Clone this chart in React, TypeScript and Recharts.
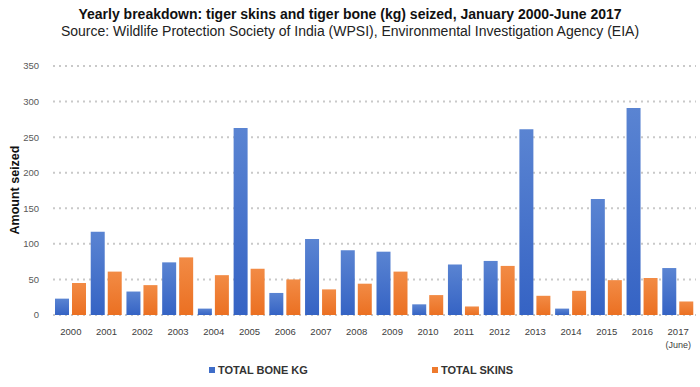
import { BarChart, Bar, XAxis, YAxis, CartesianGrid } from "recharts";

const years = ["2000", "2001", "2002", "2003", "2004", "2005", "2006", "2007", "2008", "2009", "2010", "2011", "2012", "2013", "2014", "2015", "2016", "2017"];
const boneKg = [23, 117, 33, 74, 9, 263, 31, 107, 91, 89, 15, 71, 76, 261, 9, 163, 291, 66];
const skins = [45, 61, 42, 81, 56, 65, 50, 36, 44, 61, 28, 12, 69, 27, 34, 49, 52, 19];
const yTicks = [0, 50, 100, 150, 200, 250, 300, 350];

const data = years.map((year, i) => ({ year, bone: boneKg[i], skins: skins[i] }));

const FONT = "'Liberation Sans', Arial, sans-serif";
const BLUE = "#3f6dc8";
const ORANGE = "#ee7a2d";

function YearTick({ x, y, payload }: any) {
  return (
    <g transform={`translate(${x},${y})`}>
      <text x={0} y={0} dy={12} textAnchor="middle" fontSize={9.5} fill="#404040" fontFamily={FONT}>
        {payload.value}
      </text>
      {payload.value === "2017" && (
        <text x={0} y={0} dy={25} textAnchor="middle" fontSize={9} fill="#404040" fontFamily={FONT}>
          (June)
        </text>
      )}
    </g>
  );
}

export default function App() {
  return (
    <div style={{ position: "absolute", left: 0, top: 0, width: 700, height: 387, background: "#fff", fontFamily: FONT }}>
      <div style={{ position: "absolute", top: 6, width: 700, textAlign: "center", fontSize: 14, fontWeight: "bold", color: "#111" }}>
        Yearly breakdown: tiger skins and tiger bone (kg) seized, January 2000-June 2017
      </div>
      <div style={{ position: "absolute", top: 23, width: 700, textAlign: "center", fontSize: 14, color: "#222" }}>
        Source: Wildlife Protection Society of India (WPSI), Environmental Investigation Agency (EIA)
      </div>
      <div
        style={{
          position: "absolute",
          left: 15,
          top: 190,
          transform: "translate(-50%, -50%) rotate(-90deg)",
          fontSize: 12.5,
          fontWeight: "bold",
          whiteSpace: "nowrap",
          color: "#111",
        }}
      >
        Amount seized
      </div>
      <BarChart
        width={700}
        height={387}
        data={data}
        margin={{ top: 66, right: 4, bottom: 42, left: 0 }}
        barGap={3}
        barSize={14}
      >
        <defs>
          <linearGradient id="gBone" x1="0" y1="0" x2="0" y2="1">
            <stop offset="0%" stopColor="#5a84d2" />
            <stop offset="100%" stopColor="#3563c4" />
          </linearGradient>
          <linearGradient id="gSkin" x1="0" y1="0" x2="0" y2="1">
            <stop offset="0%" stopColor="#f28b45" />
            <stop offset="100%" stopColor="#eb7022" />
          </linearGradient>
        </defs>
        <CartesianGrid vertical={false} stroke="#c9c9c9" strokeWidth={2} strokeDasharray="2 4" />
        <XAxis dataKey="year" axisLine={false} tickLine={false} interval={0} tick={<YearTick />} height={30} />
        <YAxis
          width={53}
          domain={[0, 350]}
          ticks={yTicks}
          axisLine={false}
          tickLine={false}
          tick={{ fontSize: 9.5, fill: "#595959", fontFamily: FONT }}
          tickMargin={8}
        />
        <Bar dataKey="bone" fill="url(#gBone)" isAnimationActive={false} />
        <Bar dataKey="skins" fill="url(#gSkin)" isAnimationActive={false} />
      </BarChart>
      <div style={{ position: "absolute", top: 364, left: 209, display: "flex", alignItems: "center", fontSize: 11, fontWeight: "bold", color: "#333" }}>
        <span style={{ width: 6, height: 6, background: BLUE, marginRight: 3, display: "inline-block" }} />
        TOTAL BONE KG
      </div>
      <div style={{ position: "absolute", top: 364, left: 432, display: "flex", alignItems: "center", fontSize: 11, fontWeight: "bold", color: "#333" }}>
        <span style={{ width: 6, height: 6, background: ORANGE, marginRight: 3, display: "inline-block" }} />
        TOTAL SKINS
      </div>
    </div>
  );
}
